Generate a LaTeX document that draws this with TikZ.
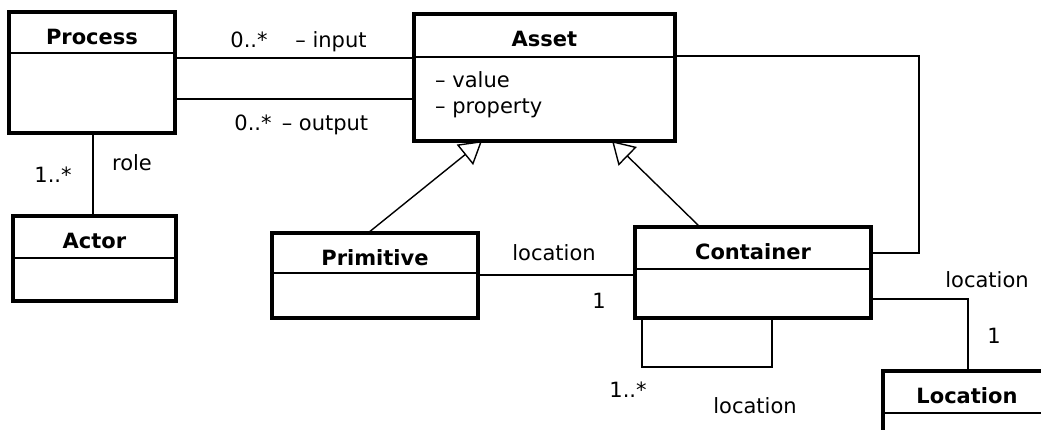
\documentclass[tikz,border=0pt]{standalone}
\usepackage{fontspec}
\setmainfont{DejaVu Sans}
\usetikzlibrary{arrows.meta,calc}

% UML class box: name, x, y, width, height, divider offset, title
\newcommand\umlclass[7]{%
  \node[classbox, minimum width=#4pt, minimum height=#5pt] (#1) at (#2,#3) {};
  \draw[divider] ($(#1.north west)+(0,#6)$) -- ($(#1.north east)+(0,#6)$);
  \node[classname] (#1-name) at ($(#1.north)+(0,32)$) {#7};
}

\begin{document}
\begin{tikzpicture}[x=1pt,y=-1pt,
  classbox/.style={draw, line width=3.5pt, inner sep=0pt, outer sep=0pt, anchor=north west, fill=white},
  classname/.style={font=\fontsize{21}{25}\selectfont\bfseries, anchor=base, inner sep=0pt},
  lbl/.style={font=\fontsize{21}{25}\selectfont, anchor=base, inner sep=0pt},
  attr/.style={lbl, anchor=base west},
  divider/.style={line width=1.6pt},
  assoc/.style={line width=1.4pt},
  generalize/.style={line width=1.4pt, -{Triangle[open, length=22pt, width=26pt, line width=1.4pt]}},
]
\useasboundingbox (0,0) rectangle (1041,429);
\clip (0,0) rectangle (1041,429);
\fill[white] (0,0) rectangle (1041,429);

% classes
\umlclass{process}{9}{12}{166}{121}{41}{Process}
\umlclass{asset}{414}{14}{261}{127}{43}{Asset}
\umlclass{actor}{13}{216}{163}{85}{42}{Actor}
\umlclass{primitive}{272}{233}{206}{85}{40}{Primitive}
\umlclass{container}{635}{227}{236}{91}{42}{Container}
\umlclass{location}{883}{371}{168}{80}{42}{Location}

% attributes of Asset
\node[attr] (asset-value) at ($(asset.north west)+(21,73)$) {– value};
\node[attr] (asset-property) at ($(asset.north west)+(21,99)$) {– property};

% associations
\draw[assoc] ($(process.north east)+(0,46)$) -- ($(asset.north west)+(0,44)$);
\draw[assoc] ($(process.north east)+(0,87)$) -- ($(asset.north west)+(0,85)$);
\draw[assoc] ($(process.south west)+(84,0)$) -- ($(actor.north west)+(80,0)$);
\draw[assoc] ($(asset.north east)+(0,42)$) -| ($(container.north east)+(48,26)$) -- ($(container.north east)+(0,26)$);
\draw[assoc] ($(primitive.north east)+(0,42)$) -- ($(container.north west)+(0,48)$);
\draw[assoc] ($(container.south west)+(7,0)$) -- ++(0,49) -| ($(container.south west)+(137,0)$);
\draw[assoc] ($(container.north east)+(0,72)$) -| ($(location.north west)+(85,0)$);

% generalizations
\draw[generalize] ($(primitive.north west)+(96,0)$) -- ($(asset.south west)+(68,0)$);
\draw[generalize] ($(container.north west)+(65,0)$) -- ($(asset.south west)+(198,0)$);

% association labels
\node[lbl] (in-mult) at (249,47) {0..*};
\node[lbl] (in-role) at (331,47) {– input};
\node[lbl] (out-mult) at (253,130) {0..*};
\node[lbl] (out-role) at (325,130) {– output};
\node[lbl] (role) at (132,170) {role};
\node[lbl] (role-mult) at (53,182) {1..*};
\node[lbl] (prim-loc) at (554,260) {location};
\node[lbl] (prim-mult) at (599,308) {1};
\node[lbl] (loop-mult) at (628,397) {1..*};
\node[lbl] (loop-loc) at (755,413) {location};
\node[lbl] (loc-loc) at (987,287) {location};
\node[lbl] (loc-mult) at (994,343) {1};
\end{tikzpicture}
\end{document}
